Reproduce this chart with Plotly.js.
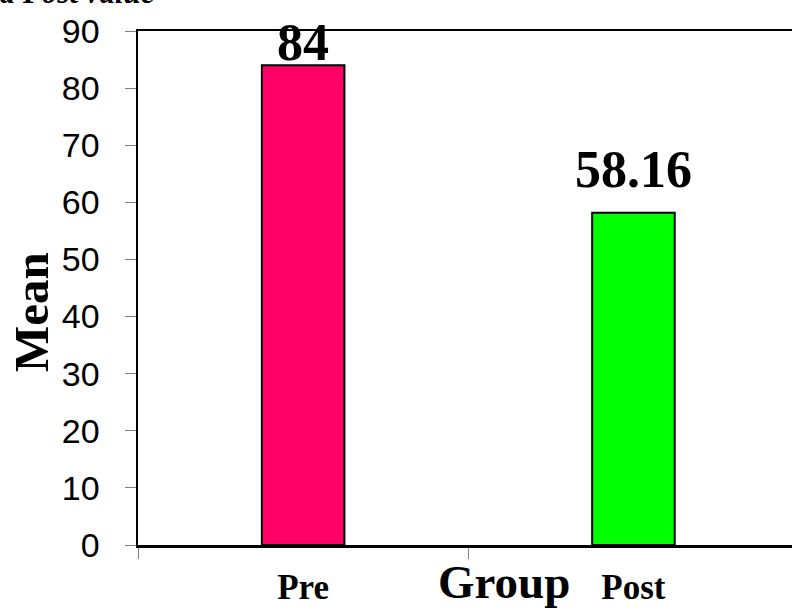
<!DOCTYPE html>
<html>
<head>
<meta charset="utf-8">
<script src="https://cdn.plot.ly/plotly-3.0.1.min.js"></script>
<style>html,body{margin:0;padding:0;background:#fff;}#chart{width:792px;height:613px;}</style>
</head>
<body>
<div id="chart"></div>
<script>
var categories = ["Pre", "Post"];
var means = [84, 58.16];
var barColors = ["#FF0066", "#00FF00"];
var valueLabels = ["84", "58.16"];
var labelShift = [-8, 13];
var yTicks = [0, 10, 20, 30, 40, 50, 60, 70, 80, 90];
var chartTitle = "Mean of Pre and Post value";
var xTitle = "Group";
var yTitle = "Mean";

var serif = "Liberation Serif, Times New Roman, serif";

var trace = {
  type: "bar",
  x: categories,
  y: means,
  width: 0.25,
  marker: {color: barColors, line: {color: "#000", width: 2}},
  hoverinfo: "none"
};

var annotations = categories.map(function (c, i) {
  return {
    x: c, y: means[i], xref: "x", yref: "y",
    text: valueLabels[i], showarrow: false,
    yanchor: "bottom", yshift: labelShift[i],
    font: {family: serif, size: 52, color: "#000", weight: "bold"}
  };
});
// chart title, clipped at the top-left edge as in the reference
annotations.push({
  xref: "paper", yref: "paper", x: 0.029, y: 1.037,
  xanchor: "right", yanchor: "bottom",
  text: "<b><i>" + chartTitle + "</i></b>", showarrow: false,
  font: {family: serif, size: 31, color: "#000"}
});
// x axis title, right of centre as in the reference
annotations.push({
  xref: "paper", yref: "paper", x: 0.56, y: -0.072,
  xanchor: "center", yanchor: "middle",
  text: "<b>" + xTitle + "</b>", showarrow: false,
  font: {family: serif, size: 47, color: "#000"}
});
// y axis title, below centre as in the reference
annotations.push({
  xref: "paper", yref: "paper", x: -0.164, y: 0.453,
  xanchor: "center", yanchor: "middle", textangle: -90,
  text: "<b>" + yTitle + "</b>", showarrow: false,
  font: {family: serif, size: 49, color: "#000"}
});

var layout = {
  width: 792, height: 613,
  margin: {l: 138, r: 0, t: 31, b: 68},
  paper_bgcolor: "#fff", plot_bgcolor: "#fff",
  showlegend: false,
  bargap: 0,
  xaxis: {
    type: "category",
    range: [-0.5, 1.48],
    tickson: "boundaries",
    ticks: "outside", ticklen: 11, tickcolor: "#808080", tickwidth: 1,
    showline: true, linecolor: "#000", linewidth: 2.5, mirror: true,
    showgrid: false, zeroline: false,
    ticklabelstandoff: 9,
    tickfont: {family: serif, size: 35, color: "#000", weight: "bold"}
  },
  yaxis: {
    range: [0, 90],
    tickvals: yTicks,
    ticks: "outside", ticklen: 11, tickcolor: "#808080", tickwidth: 1,
    showline: true, linecolor: "#000", linewidth: 2.5,
    showgrid: false, zeroline: false,
    ticklabelstandoff: 18,
    tickfont: {family: "Liberation Sans, Arial, sans-serif", size: 34, color: "#000"}
  },
  annotations: annotations
};

Plotly.newPlot("chart", [trace], layout, {staticPlot: true, displayModeBar: false});
</script>
</body>
</html>
